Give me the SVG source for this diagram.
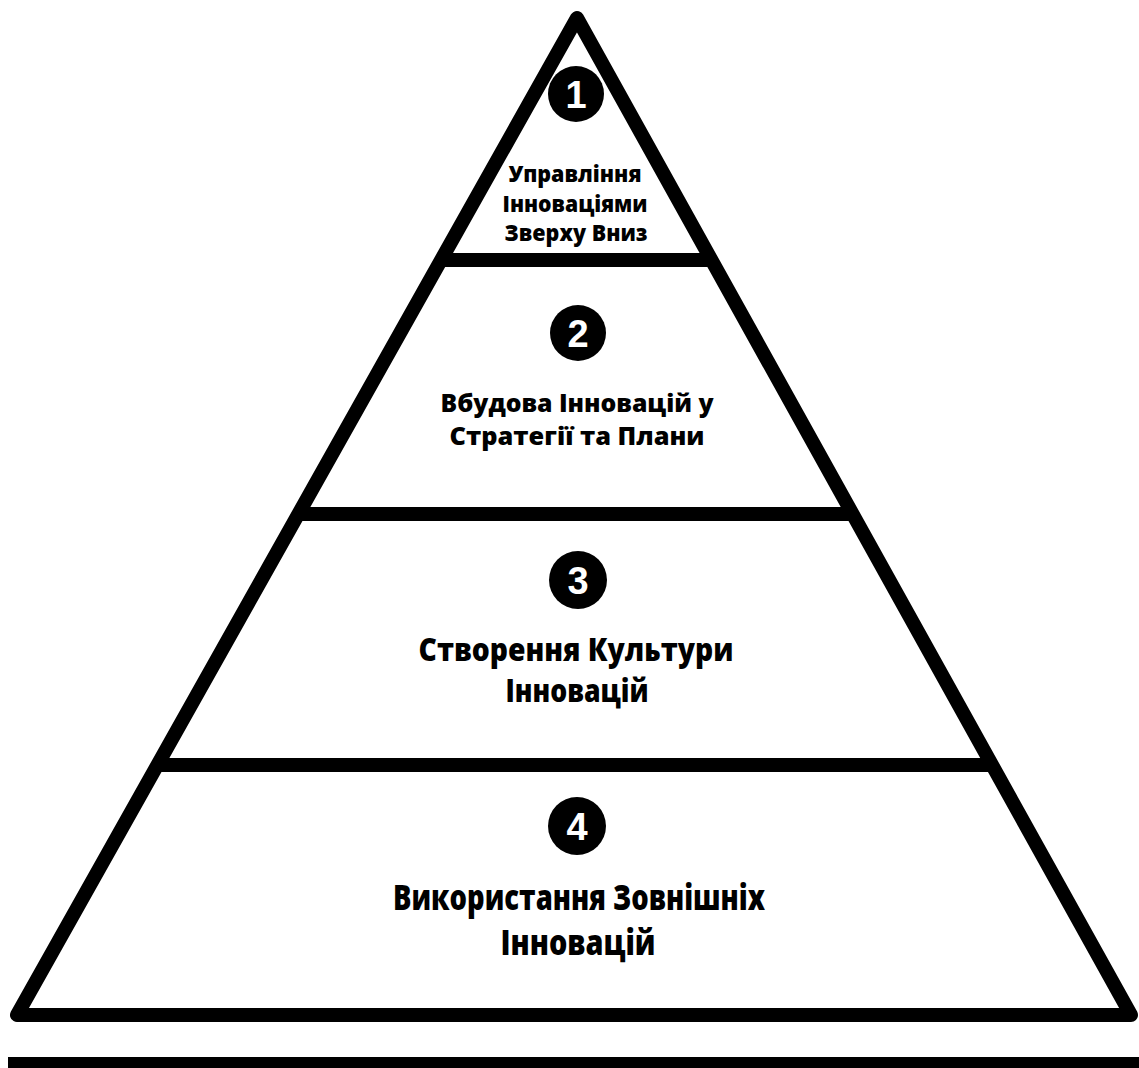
<svg xmlns="http://www.w3.org/2000/svg" width="1139" height="1068" viewBox="0 0 1139 1068">
  <style>
    .edge { fill: none; stroke: #000; stroke-width: 14; stroke-linejoin: round; stroke-linecap: butt; }
    .badge { fill: #000; }
    .num { fill: #fff; font-family: "Liberation Sans", Arial, sans-serif; font-weight: 700; font-size: 38px; text-anchor: middle; }
    .lbl { fill: #000; font-family: "Open Sans", "Noto Sans", sans-serif; font-weight: 800; text-anchor: middle; }
  </style>
  <rect x="0" y="0" width="1139" height="1068" fill="#fff"/>
  <g id="connectors">
    <polygon class="edge" points="577,18 17,1015 1131,1015"/>
    <line class="edge" x1="441" y1="260" x2="712" y2="260"/>
    <line class="edge" x1="298" y1="514" x2="853" y2="514"/>
    <line class="edge" x1="157" y1="765" x2="992" y2="765"/>
    <rect x="8" y="1057" width="1131" height="11" fill="#000"/>
  </g>
  <g id="level1">
    <circle class="badge" cx="576" cy="94" r="28"/>
    <text class="num" x="576" y="107.5">1</text>
    <text class="lbl" font-size="23" x="575" y="182" textLength="133" lengthAdjust="spacingAndGlyphs">Управління</text>
    <text class="lbl" font-size="23" x="575" y="212" textLength="145" lengthAdjust="spacingAndGlyphs">Інноваціями</text>
    <text class="lbl" font-size="23" x="576" y="241" textLength="143" lengthAdjust="spacingAndGlyphs">Зверху Вниз</text>
  </g>
  <g id="level2">
    <circle class="badge" cx="578" cy="333" r="28"/>
    <text class="num" x="578" y="346.5">2</text>
    <text class="lbl" font-size="25" x="577" y="412" textLength="273" lengthAdjust="spacingAndGlyphs">Вбудова Інновацій у</text>
    <text class="lbl" font-size="25" x="577" y="445" textLength="255" lengthAdjust="spacingAndGlyphs">Стратегії та Плани</text>
  </g>
  <g id="level3">
    <circle class="badge" cx="578" cy="580" r="29"/>
    <text class="num" x="578" y="593.5">3</text>
    <text class="lbl" font-size="31" x="576" y="661" textLength="315" lengthAdjust="spacingAndGlyphs">Створення Культури</text>
    <text class="lbl" font-size="31" x="577" y="702" textLength="143" lengthAdjust="spacingAndGlyphs">Інновацій</text>
  </g>
  <g id="level4">
    <circle class="badge" cx="577" cy="826" r="29"/>
    <text class="num" x="577" y="839.5">4</text>
    <text class="lbl" font-size="35" x="579" y="910" textLength="372" lengthAdjust="spacingAndGlyphs">Використання Зовнішніх</text>
    <text class="lbl" font-size="35" x="578" y="955" textLength="155" lengthAdjust="spacingAndGlyphs">Інновацій</text>
  </g>
</svg>
